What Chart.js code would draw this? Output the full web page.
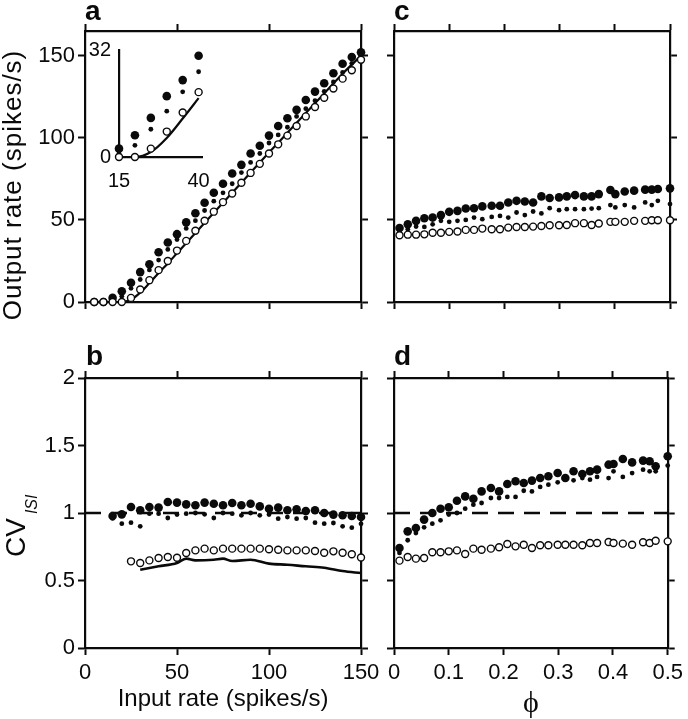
<!DOCTYPE html>
<html>
<head>
<meta charset="utf-8">
<script src="https://cdn.jsdelivr.net/npm/chart.js@4.4.1/dist/chart.umd.min.js"></script>
<style>
  body { margin: 0; background: #fff; }
  #fig { position: relative; width: 688px; height: 719px; overflow: hidden; background: #fff; }
  #fig canvas { position: absolute; }
</style>
</head>
<body>
<div id="fig">
  <canvas id="panelA" width="391" height="332" style="left:0px;top:0px"></canvas>
  <canvas id="panelC" width="334" height="332" style="left:354px;top:0px"></canvas>
  <canvas id="panelB" width="391" height="381" style="left:0px;top:338px"></canvas>
  <canvas id="panelD" width="334" height="381" style="left:354px;top:338px"></canvas>
  <canvas id="inset" width="162" height="167" style="left:60px;top:30px"></canvas>
</div>
<script>
// ---- data ----
var rateA = [5, 10, 15, 20, 25, 30, 35, 40, 45, 50, 55, 60, 65, 70, 75, 80, 85, 90, 95, 100, 105, 110, 115, 120, 125, 130, 135, 140, 145, 150];
var outFilled = [0, 0, 2.5, 6.5, 11.7, 18.2, 23, 30.3, 36.2, 41.3, 48.5, 54, 60.4, 66.5, 72, 78.2, 83.5, 90.4, 95.1, 101.3, 107.2, 111.9, 117, 123, 128.1, 133.2, 139.3, 145.1, 149.2, 152];
var outSmall = [0, 0, 1, 3.5, 8.3, 13.7, 19.5, 25.5, 32, 38, 44.8, 49.5, 55.7, 61.4, 66.5, 72, 78.8, 85, 90.4, 96.8, 101.7, 106.4, 113, 117.7, 122.6, 128.3, 134, 139.8, 145.3, 149];
var outOpen = [0, 0, 0, 0, 2.5, 7.6, 13.3, 19.4, 25, 31.3, 37.2, 43.4, 49.5, 55, 60.8, 66.1, 72.6, 78.6, 84.1, 90.4, 96, 101.3, 107.2, 113, 118.7, 124.4, 130, 136, 141.1, 147.5];
var outLineX = [15, 20, 25, 30, 35, 40, 45, 50, 60, 70, 80, 90, 100, 110, 120, 130, 140, 150];
var outLineY = [0, 0, 1.5, 5.7, 11.5, 17.6, 23.5, 29.7, 42, 54.3, 66.5, 78.8, 91, 103, 115, 127, 139, 150];

var rateB = [15, 20, 25, 30, 35, 40, 45, 50, 55, 60, 65, 70, 75, 80, 85, 90, 95, 100, 105, 110, 115, 120, 125, 130, 135, 140, 145, 150];
var cvFilled = [0.978, 0.99, 1.044, 1.02, 1.044, 1.04, 1.081, 1.077, 1.064, 1.057, 1.077, 1.069, 1.057, 1.074, 1.057, 1.069, 1.049, 1.032, 1.04, 1.02, 1.027, 1.015, 1.02, 1.0, 0.988, 0.983, 0.978, 0.97];
var cvSmall = [0.96, 0.921, 0.928, 0.901, 0.995, 0.995, 0.963, 0.988, 0.995, 1.0, 0.99, 0.963, 1.0, 0.995, 0.983, 1.0, 0.983, 0.988, 0.958, 0.97, 0.958, 0.963, 0.928, 0.921, 0.926, 0.901, 0.891, 0.92];
var cvOpen = [null, null, 0.642, 0.63, 0.649, 0.667, 0.674, 0.669, 0.704, 0.723, 0.736, 0.723, 0.736, 0.736, 0.736, 0.736, 0.736, 0.731, 0.728, 0.723, 0.723, 0.723, 0.719, 0.706, 0.716, 0.706, 0.694, 0.67];
var cvLineX = [30, 40, 50, 55, 60, 70, 75, 80, 90, 100, 110, 120, 130, 140, 150];
var cvLineY = [0.58, 0.605, 0.63, 0.662, 0.649, 0.654, 0.662, 0.644, 0.654, 0.625, 0.617, 0.605, 0.595, 0.57, 0.555];

var phi = [0.01, 0.025, 0.04, 0.055, 0.07, 0.085, 0.1, 0.115, 0.13, 0.145, 0.16, 0.177, 0.192, 0.207, 0.222, 0.237, 0.252, 0.267, 0.282, 0.299, 0.313, 0.328, 0.344, 0.358, 0.371, 0.392, 0.401, 0.418, 0.435, 0.455, 0.467, 0.478, 0.5];
var phiOutFilled = [45.1, 47.3, 49.4, 51, 51.4, 52.9, 54.9, 55.5, 56.9, 57.1, 58.2, 58.6, 58.6, 60.6, 61.6, 61.2, 60.6, 64.3, 63.3, 63.7, 64.3, 65.1, 64.3, 64.3, 65.7, 68.2, 65.7, 67.3, 67.8, 68.4, 68.4, 68.8, 69.2];
var phiOutSmall = [43.3, 44.3, 45.9, 45.7, 47.3, 49.4, 48.8, 49.4, 50, 51.4, 50.4, 51.8, 52.4, 51.4, 54.5, 52.9, 55.1, 53.9, 57.1, 55.9, 56.5, 56.5, 56.5, 56.9, 57.1, 59, 57.6, 59, 57.6, 60.6, 59, 61.6, 59.6];
var phiOutOpen = [40.6, 41, 41, 41.2, 42.2, 42.2, 42.7, 42.9, 43.9, 43.9, 44.7, 44.3, 44.3, 45.3, 45.7, 45.7, 45.9, 46.3, 46.7, 46.7, 46.9, 48, 48, 46.9, 47.8, 48.8, 48.8, 48.8, 49.4, 49.4, 49.8, 49.8, 49.8];
var phiCvFilled = [0.741, 0.864, 0.889, 0.951, 1.0, 1.032, 1.042, 1.091, 1.123, 1.106, 1.16, 1.185, 1.16, 1.215, 1.235, 1.222, 1.24, 1.259, 1.272, 1.296, 1.259, 1.309, 1.289, 1.309, 1.321, 1.358, 1.363, 1.4, 1.375, 1.388, 1.383, 1.346, 1.42];
var phiCvSmall = [0.704, 0.798, 0.852, 0.894, 0.921, 0.946, 0.988, 1.0, 1.032, 1.062, 1.074, 1.111, 1.111, 1.119, 1.119, 1.165, 1.16, 1.193, 1.21, 1.227, 1.247, 1.242, 1.259, 1.247, 1.267, 1.259, 1.309, 1.267, 1.296, 1.321, 1.309, 1.309, 1.351];
var phiCvOpen = [0.647, 0.674, 0.662, 0.667, 0.709, 0.709, 0.716, 0.723, 0.696, 0.736, 0.728, 0.736, 0.746, 0.77, 0.753, 0.765, 0.741, 0.761, 0.761, 0.765, 0.765, 0.765, 0.761, 0.778, 0.778, 0.785, 0.778, 0.773, 0.765, 0.783, 0.778, 0.795, 0.79];

var unityRateX = [0, 150];
var unityPhiX = [0, 0.5];
var unityY = [1, 1];

var rateTicks = [0, 50, 100, 150];
var outTicks = [0, 50, 100, 150];
var cvTicks = [0, 0.5, 1, 1.5, 2];
var phiTicks = [0, 0.1, 0.2, 0.3, 0.4, 0.5];
var insetXTicks = [15, 40];
var insetYTicks = [0, 32];

// ---- helpers ----
var INK = '#0a0a0a';
var SANS = "'Liberation Sans', Arial, Helvetica, sans-serif";
Chart.defaults.font.family = SANS;
Chart.defaults.color = INK;

function pts(xs, ys) {
    return xs.map(function(x, i) { return {x: x, y: ys[i]}; })
             .filter(function(p) { return p.y !== null; });
}

function filledSet(data) {
    return {data: data, pointRadius: 4.3, backgroundColor: INK, borderWidth: 0, clip: false};
}
function smallSet(data) {
    return {data: data, pointRadius: 2.4, backgroundColor: INK, borderWidth: 0, clip: false};
}
function openSet(data) {
    return {data: data, pointRadius: 3.5, backgroundColor: '#fff', borderColor: INK, borderWidth: 1.4, clip: false};
}
function lineSet(data, width, dash) {
    return {data: data, showLine: true, pointRadius: 0, borderColor: INK, borderWidth: width,
            borderDash: dash || [], tension: 0.3, cubicInterpolationMode: 'monotone', clip: false};
}

function axis(position, min, max, ticks, o) {
    o = o || {};
    var tl = o.tickLength === undefined ? 7 : o.tickLength;
    return {
        type: 'linear', position: position, min: min, max: max,
        afterBuildTicks: function(scale) {
            scale.ticks = ticks.map(function(v) { return {value: v}; });
        },
        afterFit: function(scale) {
            if (scale.isHorizontal()) scale.height = o.size; else scale.width = o.size;
        },
        grid: {display: tl > 0, drawOnChartArea: false, drawTicks: tl > 0, tickLength: tl, tickWidth: 2, color: INK},
        border: {display: true, width: 2.2, color: INK},
        ticks: {
            display: !!o.labels, padding: o.padding || 3, color: INK, autoSkip: false, maxRotation: 0,
            font: {size: o.fontSize || 22},
            callback: function(v) { return String(v); }
        },
        title: o.title || {display: false}
    };
}

function textPlugin(left, top, items) {
    return {
        id: 'panelText',
        afterDraw: function(chart) {
            var ctx = chart.ctx;
            items.forEach(function(it) {
                ctx.save();
                ctx.fillStyle = INK;
                ctx.font = it.font;
                if (it.spacing) ctx.letterSpacing = it.spacing;
                ctx.textAlign = it.align || 'left';
                ctx.textBaseline = 'alphabetic';
                ctx.translate(it.x - left, it.y - top);
                if (it.rotate) ctx.rotate(-Math.PI / 2);
                ctx.fillText(it.text, 0, 0);
                if (it.sub) {
                    var w = ctx.measureText(it.text).width;
                    ctx.font = it.sub.font;
                    ctx.fillText(it.sub.text, w + it.sub.dx, it.sub.dy);
                }
                ctx.restore();
            });
        }
    };
}

function makeChart(id, datasets, scales, plugins) {
    return new Chart(document.getElementById(id), {
        type: 'scatter',
        data: {datasets: datasets},
        options: {
            responsive: false, animation: false, devicePixelRatio: 1,
            layout: {padding: 0},
            plugins: {legend: {display: false}, tooltip: {enabled: false}},
            scales: scales
        },
        plugins: plugins || []
    });
}

var LETTER = "bold 28px " + SANS;

// ---- panel a ----
makeChart('panelA', [
    openSet(pts(rateA, outOpen)),
    smallSet(pts(rateA, outSmall)),
    filledSet(pts(rateA, outFilled)),
    lineSet(pts(outLineX, outLineY), 2.2)
], {
    x: axis('bottom', 0, 150, rateTicks, {size: 30}),
    x2: axis('top', 0, 150, rateTicks, {size: 31}),
    y: axis('left', 0, 165, outTicks, {size: 85, labels: true}),
    y2: axis('right', 0, 165, outTicks, {size: 30})
}, [textPlugin(0, 0, [
    {text: 'a', x: 85, y: 20, font: LETTER},
    {text: 'Output rate (spikes/s)', x: 21, y: 185, font: '26px ' + SANS, rotate: true, align: 'center', spacing: '1px'}
])]);

// ---- inset of panel a ----
makeChart('inset', [
    openSet(pts(rateA.slice(2, 8), outOpen.slice(2, 8))),
    smallSet(pts(rateA.slice(2, 8), outSmall.slice(2, 8))),
    filledSet(pts(rateA.slice(2, 8), outFilled.slice(2, 8))),
    lineSet(pts(outLineX.slice(0, 6), outLineY.slice(0, 6)), 2.2)
], {
    x: axis('bottom', 15, 41.3, insetXTicks, {size: 40, labels: true, tickLength: 0, padding: 12, fontSize: 20}),
    y: axis('left', 0, 32, insetYTicks, {size: 59, labels: true, tickLength: 0, padding: 8, fontSize: 20})
});

// ---- panel c ----
makeChart('panelC', [
    openSet(pts(phi, phiOutOpen)),
    smallSet(pts(phi, phiOutSmall)),
    filledSet(pts(phi, phiOutFilled))
], {
    x: axis('bottom', 0, 0.5, phiTicks, {size: 30}),
    x2: axis('top', 0, 0.5, phiTicks, {size: 31}),
    y: axis('left', 0, 165, outTicks, {size: 40}),
    y2: axis('right', 0, 165, outTicks, {size: 18})
}, [textPlugin(354, 0, [
    {text: 'c', x: 394, y: 20, font: LETTER}
])]);

// ---- panel b ----
makeChart('panelB', [
    openSet(pts(rateB, cvOpen)),
    smallSet(pts(rateB, cvSmall)),
    filledSet(pts(rateB, cvFilled)),
    lineSet(pts(cvLineX, cvLineY), 2.6),
    lineSet(pts(unityRateX, unityY), 2.5, [16, 10])
], {
    x: axis('bottom', 0, 150, rateTicks, {size: 71, labels: true, padding: 5, title: {
        display: true, text: 'Input rate (spikes/s)', color: INK,
        font: {size: 24, lineHeight: 1}, padding: {top: 0, bottom: 8}
    }}),
    x2: axis('top', 0, 150, rateTicks, {size: 40}),
    y: axis('left', 0, 2, cvTicks, {size: 85, labels: true}),
    y2: axis('right', 0, 2, cvTicks, {size: 30})
}, [textPlugin(0, 338, [
    {text: 'b', x: 86, y: 365, font: LETTER},
    {text: 'CV', x: 25, y: 557, font: '28px ' + SANS, rotate: true,
     sub: {text: 'ISI', font: 'italic 16px ' + SANS, dx: 4, dy: 12}}
])]);

// ---- panel d ----
makeChart('panelD', [
    openSet(pts(phi, phiCvOpen)),
    smallSet(pts(phi, phiCvSmall)),
    filledSet(pts(phi, phiCvFilled)),
    lineSet(pts(unityPhiX, unityY), 2.5, [16, 10])
], {
    x: axis('bottom', 0, 0.5, phiTicks, {size: 71, labels: true, padding: 5, title: {
        display: true, text: 'ϕ', color: INK,
        font: {size: 30, lineHeight: 1, family: "'Liberation Serif', 'DejaVu Serif', serif"},
        padding: {top: 0, bottom: 0}
    }}),
    x2: axis('top', 0, 0.5, phiTicks, {size: 40}),
    y: axis('left', 0, 2, cvTicks, {size: 40}),
    y2: axis('right', 0, 2, cvTicks, {size: 18})
}, [textPlugin(354, 338, [
    {text: 'd', x: 394, y: 365, font: LETTER}
])]);
</script>
</body>
</html>
